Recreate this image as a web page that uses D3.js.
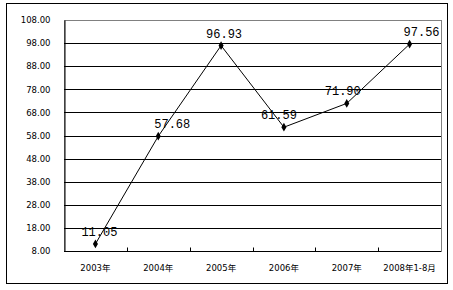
<!DOCTYPE html>
<html>
<head>
<meta charset="utf-8">
<script src="https://cdn.jsdelivr.net/npm/d3@7"></script>
<style>
body { margin: 0; background: #fff; }
</style>
</head>
<body>
<script>
// Data
var years = ["2003年", "2004年", "2005年", "2006年", "2007年", "2008年1-8月"];
var values = [11.05, 57.68, 96.93, 61.59, 71.90, 97.56];
var yTicks = [8, 18, 28, 38, 48, 58, 68, 78, 88, 98, 108];

// small label nudges (like excel's auto placement)
var labelDx = [4, 14, 3, -5, -4, 12];

var W = 453, H = 290;
var margin = {top: 20, right: 12, bottom: 39, left: 64},
    width = W - margin.left - margin.right,
    height = H - margin.top - margin.bottom;

var svg = d3.select("body").append("svg")
    .attr("width", W)
    .attr("height", H);

// outer frame
svg.append("rect")
    .attr("x", 6.5).attr("y", 3.5)
    .attr("width", 441).attr("height", 280)
    .attr("fill", "none")
    .attr("stroke", "#000")
    .attr("stroke-width", 1);

var g = svg.append("g")
    .attr("transform", "translate(" + margin.left + "," + margin.top + ")");

var x = d3.scaleBand().domain(years).range([0, width]);
var y = d3.scaleLinear().domain([8, 108]).range([height, 0]);

// plot border (top/right gray)
g.append("rect")
    .attr("x", 0.5).attr("y", 0.5)
    .attr("width", width).attr("height", height)
    .attr("fill", "none")
    .attr("stroke", "#808080");

// gridlines
g.selectAll(".grid")
    .data(yTicks.filter(function(d) { return d > 8 && d < 108; }))
    .enter().append("line")
    .attr("x1", 0).attr("x2", width)
    .attr("y1", function(d) { return Math.round(y(d)) + 0.5; })
    .attr("y2", function(d) { return Math.round(y(d)) + 0.5; })
    .attr("stroke", "#000");

// y axis
var yAxis = d3.axisLeft(y)
    .tickValues(yTicks)
    .tickSize(0)
    .tickPadding(14)
    .tickFormat(d3.format(".2f"));

g.append("g")
    .attr("class", "y axis")
    .attr("transform", "translate(0.5,0)")
    .call(yAxis)
    .call(function(s) { s.select(".domain").attr("stroke", "#000"); })
    .selectAll("text")
    .style("font-family", "'DejaVu Sans', sans-serif")
    .style("font-size", "8.5px")
    .attr("fill", "#000");

// x axis with ticks at band boundaries
var xb = g.append("g")
    .attr("class", "x axis")
    .attr("transform", "translate(0," + (Math.round(height) + 0.5) + ")");

xb.append("line")
    .attr("x1", 0).attr("x2", width)
    .attr("stroke", "#000");

xb.selectAll(".tick")
    .data(years.slice(1))
    .enter().append("line")
    .attr("x1", function(d) { return Math.round(x(d)) + 0.5; })
    .attr("x2", function(d) { return Math.round(x(d)) + 0.5; })
    .attr("y1", 0).attr("y2", -4)
    .attr("stroke", "#000");

xb.selectAll(".lbl")
    .data(years)
    .enter().append("text")
    .attr("x", function(d) { return x(d) + x.bandwidth() / 2; })
    .attr("y", 19)
    .attr("text-anchor", "middle")
    .style("font-family", "'DejaVu Sans', 'Noto Sans CJK SC', sans-serif")
    .style("font-size", "8.5px")
    .text(function(d) { return d; });

// line
var line = d3.line()
    .x(function(d, i) { return x(years[i]) + x.bandwidth() / 2; })
    .y(function(d) { return y(d); });

g.append("path")
    .datum(values)
    .attr("d", line)
    .attr("fill", "none")
    .attr("stroke", "#000")
    .attr("stroke-width", 1);

// diamond markers
g.selectAll(".pt")
    .data(values)
    .enter().append("path")
    .attr("d", d3.symbol().type(d3.symbolDiamond).size(22))
    .attr("transform", function(d, i) {
        return "translate(" + (x(years[i]) + x.bandwidth() / 2) + "," + y(d) + ")";
    })
    .attr("fill", "#000");

// data labels
g.selectAll(".val")
    .data(values)
    .enter().append("text")
    .attr("x", function(d, i) { return x(years[i]) + x.bandwidth() / 2 + labelDx[i]; })
    .attr("y", function(d) { return y(d) - 8; })
    .attr("text-anchor", "middle")
    .style("font-family", "'Liberation Mono', 'DejaVu Sans Mono', monospace")
    .style("font-size", "12px")
    .text(function(d) { return d.toFixed(2); });
</script>
</body>
</html>
